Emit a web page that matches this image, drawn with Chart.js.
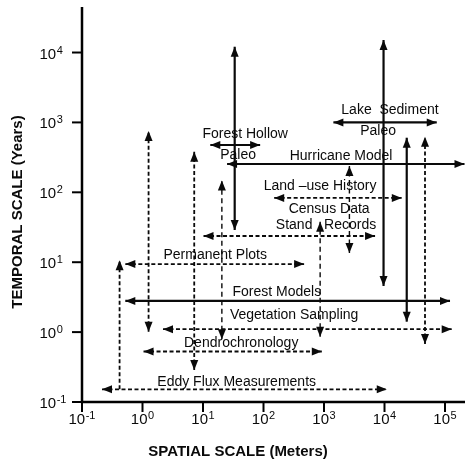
<!DOCTYPE html>
<html>
<head>
<meta charset="utf-8">
<script src="https://cdn.jsdelivr.net/npm/chart.js@4/dist/chart.umd.min.js"></script>
<style>
  html, body { margin: 0; padding: 0; background: #fff; }
</style>
</head>
<body>
<canvas id="chart" width="465" height="463"></canvas>
<script>
// horizontal ranges (spatial extent at one time scale)
const hNames = ['Lake Sediment Paleo', 'Forest Hollow Paleo', 'Hurricane Model', 'Land-use History', 'Stand Records',
                'Permanent Plots', 'Forest Models', 'Vegetation Sampling', 'Dendrochronology', 'Eddy Flux Measurements'];
const hTime = [1000, 475, 254, 83, 23.7, 9.4, 2.79, 1.1, 0.528, 0.152];
const hFrom = [1430, 13.2, 25, 150, 10.2, 0.52, 0.52, 2.18, 1.04, 0.214];
const hTo = [73000, 88, 210000, 19300, 6980, 469, 121000, 129000, 920, 10900];

// vertical ranges (time extent at one spatial scale)
const vSpace = [0.418, 1.26, 7.16, 20.5, 33.4, 863, 2630, 9640, 23300, 46700];
const vFrom = [0.152, 1.01, 0.287, 0.79, 28.9, 0.86, 13.5, 4.57, 1.41, 0.676];
const vTo = [10.7, 753, 381, 147, 12100, 38, 238, 15100, 604, 624];

// text placed on the plot
const noteText = ['Lake  Sediment', 'Paleo', 'Forest Hollow', 'Paleo', 'Hurricane Model', 'Land \u2013use History',
                  'Census Data', 'Stand', 'Records', 'Permanent Plots', 'Forest Models', 'Vegetation Sampling',
                  'Dendrochronology', 'Eddy Flux Measurements'];
const noteSpace = [12300, 7820, 49.8, 38, 1915, 862, 1215, 321, 2700, 15.9, 166, 321, 42.8, 36];
const noteTime = [1500, 760, 682, 342, 334, 123, 57.7, 34, 34, 12.7, 3.71, 1.76, 0.705, 0.195];

const xTickPowers = [-1, 0, 1, 2, 3, 4, 5];
const yTickPowers = [-1, 0, 1, 2, 3, 4];

// line styles
const hStyle = ['solid', 'solid', 'solid', 'dash', 'dash', 'dash', 'solid', 'dash', 'dash', 'dash'];
const vStyle = ['dash', 'dash', 'dash', 'fine', 'solid', 'fine', 'fine', 'solid', 'solid', 'dash'];
const styles = {
    solid: { width: 2.2, dash: [] },
    dash: { width: 1.8, dash: [4, 2.5] },
    fine: { width: 1.4, dash: [5, 3.5] },
};

const INK = '#0a0a0a';
const FONT = '"Liberation Sans", Arial, sans-serif';

const makeArrow = (points, style, headStart, headEnd) => ({
    data: points,
    showLine: true,
    borderColor: INK,
    borderWidth: styles[style].width,
    borderDash: styles[style].dash,
    pointRadius: 0,
    fill: false,
    clip: false,
    headStart: headStart,
    headEnd: headEnd,
});

const datasets = [];
hNames.forEach((name, i) => {
    datasets.push(makeArrow([{ x: hFrom[i], y: hTime[i] }, { x: hTo[i], y: hTime[i] }], hStyle[i], true, true));
});
vSpace.forEach((x, i) => {
    // the small-scale plot arrow rises from the eddy flux line, so no head at its foot
    datasets.push(makeArrow([{ x: x, y: vFrom[i] }, { x: x, y: vTo[i] }], vStyle[i], i !== 0, true));
});

const drawHead = (ctx, from, tip) => {
    const ang = Math.atan2(tip.y - from.y, tip.x - from.x);
    const len = 10, half = 4;
    const c = Math.cos(ang), s = Math.sin(ang);
    ctx.beginPath();
    ctx.moveTo(tip.x, tip.y);
    ctx.lineTo(tip.x - len * c - half * s, tip.y - len * s + half * c);
    ctx.lineTo(tip.x - len * c + half * s, tip.y - len * s - half * c);
    ctx.closePath();
    ctx.fill();
};

const arrowHeads = {
    id: 'arrowHeads',
    afterDatasetsDraw(chart) {
        const ctx = chart.ctx;
        ctx.save();
        ctx.fillStyle = INK;
        chart.data.datasets.forEach((ds, i) => {
            const pts = chart.getDatasetMeta(i).data;
            if (ds.headStart) drawHead(ctx, pts[1], pts[0]);
            if (ds.headEnd) drawHead(ctx, pts[0], pts[1]);
        });
        ctx.restore();
    },
};

// "10" with a raised exponent; align is 'center' (x ticks) or 'left' (y ticks)
const drawPower = (ctx, exp, x, y, align) => {
    ctx.font = '15px ' + FONT;
    const wb = ctx.measureText('10').width;
    ctx.font = '11px ' + FONT;
    const ws = ctx.measureText(String(exp)).width;
    const total = wb + ws + 0.5;
    const left = align === 'center' ? x - total / 2 : x;
    ctx.textAlign = 'left';
    ctx.textBaseline = 'alphabetic';
    ctx.font = '15px ' + FONT;
    ctx.fillText('10', left, y);
    ctx.font = '11px ' + FONT;
    ctx.fillText(String(exp), left + wb + 0.5, y - 5);
};

const axesAndText = {
    id: 'axesAndText',
    afterDraw(chart) {
        const ctx = chart.ctx;
        const xs = chart.scales.x, ys = chart.scales.y;
        const area = chart.chartArea;
        const x0 = xs.getPixelForValue(0.1);
        const y0 = ys.getPixelForValue(0.1);
        ctx.save();
        ctx.strokeStyle = '#000';
        ctx.fillStyle = INK;
        ctx.lineWidth = 2.5;
        ctx.beginPath();
        ctx.moveTo(x0, area.top);
        ctx.lineTo(x0, y0);
        ctx.lineTo(chart.width, y0);
        ctx.stroke();

        ctx.lineWidth = 2;
        xTickPowers.forEach(p => {
            const px = xs.getPixelForValue(Math.pow(10, p));
            ctx.beginPath();
            ctx.moveTo(px, y0);
            ctx.lineTo(px, y0 + 10);
            ctx.stroke();
            drawPower(ctx, p, px, y0 + 22, 'center');
        });
        yTickPowers.forEach(p => {
            const py = ys.getPixelForValue(Math.pow(10, p));
            ctx.beginPath();
            ctx.moveTo(x0 - 10, py);
            ctx.lineTo(x0, py);
            ctx.stroke();
            drawPower(ctx, p, 39.5, py + 6, 'left');
        });

        // axis titles
        ctx.font = 'bold 15px ' + FONT;
        ctx.textAlign = 'center';
        ctx.textBaseline = 'middle';
        ctx.fillText('SPATIAL SCALE (Meters)', 238, 452);
        ctx.save();
        ctx.translate(18, 212);
        ctx.rotate(-Math.PI / 2);
        ctx.fillText('TEMPORAL SCALE (Years)', 0, 0);
        ctx.restore();

        // range names
        ctx.font = '14px ' + FONT;
        noteText.forEach((t, i) => {
            ctx.fillText(t, xs.getPixelForValue(noteSpace[i]), ys.getPixelForValue(noteTime[i]));
        });
        ctx.restore();
    },
};

new Chart(document.getElementById('chart').getContext('2d'), {
    type: 'scatter',
    data: { datasets: datasets },
    options: {
        responsive: false,
        animation: false,
        layout: { padding: { left: 82, right: 0, top: 7, bottom: 61 } },
        plugins: { legend: { display: false }, tooltip: { enabled: false } },
        scales: {
            x: { type: 'logarithmic', min: 0.1, max: 214000, display: false },
            y: { type: 'logarithmic', min: 0.1, max: 44800, display: false },
        },
    },
    plugins: [arrowHeads, axesAndText],
});
</script>
</body>
</html>
